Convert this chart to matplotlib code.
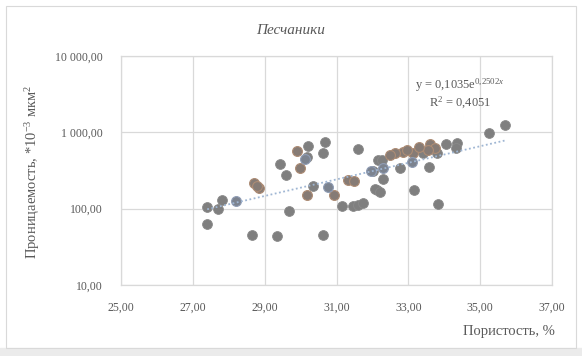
import numpy as np
import matplotlib
matplotlib.use('Agg')
import matplotlib.pyplot as plt
from matplotlib.ticker import FuncFormatter, FixedLocator
import matplotlib.patches as mpatches

plt.rcParams['font.family'] = ['Liberation Serif', 'DejaVu Serif']
plt.rcParams['mathtext.fontset'] = 'custom'
plt.rcParams['mathtext.rm'] = 'Liberation Serif'
plt.rcParams['mathtext.it'] = 'Liberation Serif:italic'

# точки (пористость %, проницаемость)
gray_x = [27.40, 27.40, 27.71, 27.82, 28.66, 29.33, 29.43, 29.59, 29.67, 30.21,
          30.19, 30.62, 30.68, 30.35, 30.63, 31.14, 31.47, 31.61, 31.75, 31.61,
          32.12, 32.16, 35.69, 35.25, 34.36, 34.04, 34.33, 33.79, 33.42, 32.77,
          33.58, 32.26, 32.02, 32.29, 32.07, 32.21, 33.17, 33.83]
gray_y = [106, 63, 100, 130, 45, 44, 384, 275, 92, 659,
          477, 539, 738, 198, 45, 109, 109, 111, 117, 597,
          175, 433, 1231, 977, 729, 701, 616, 529, 529, 337,
          353, 433, 313, 242, 179, 167, 175, 114]
brown_x = [28.71, 28.84, 28.79, 29.89, 29.98, 30.19, 30.94, 31.33, 31.49, 33.60,
           33.74, 33.55, 33.14, 32.86, 32.63, 32.50, 32.95, 33.30]
brown_y = [214, 185, 198, 562, 340, 151, 151, 237, 229, 701,
           616, 585, 529, 556, 529, 500, 590, 640]
blue_x = [28.19, 30.12, 30.77, 31.96, 33.09, 32.30]
blue_y = [125, 442, 190, 310, 411, 337]

# линия тренда y = a*e^(b*x)
trend_a = 0.1035
trend_b = 0.2502
r2 = 0.4051

x_ticks = [25, 27, 29, 31, 33, 35, 37]
y_ticks = [10, 100, 1000, 10000]

txt = '#595959'
grid_c = '#d9d9d9'

fig = plt.figure(figsize=(5.82, 3.56), dpi=100)
ax = fig.add_axes([121/582, 1 - 285/356, (552 - 121)/582, (285 - 56)/356])

# рамка диаграммы
fig.patches.append(mpatches.Rectangle((0, 0), 1, 8/356, transform=fig.transFigure,
                                      color='#ebebeb', zorder=0))
fig.patches.append(mpatches.Rectangle((6/582, 8/356), 570/582, 342/356, transform=fig.transFigure,
                                      fill=False, edgecolor='#d9d9d9', lw=0.8, zorder=1))

ms = 50
ax.scatter(gray_x, gray_y, s=ms, c='#7f7f7f', edgecolors='#8a8a8a', linewidths=0.6, zorder=3)
ax.scatter(brown_x, brown_y, s=ms, c='#867b75', edgecolors='#ad8c74', linewidths=0.8, zorder=3)
ax.scatter(blue_x, blue_y, s=ms, c='#7c838f', edgecolors='#909db5', linewidths=0.8, zorder=3)

all_x = gray_x + brown_x + blue_x
tx = np.linspace(min(all_x), max(all_x), 100)
ax.plot(tx, trend_a * np.exp(trend_b * tx), color='#9fb6d3', lw=1.3,
        linestyle=(0, (1, 1.4)), zorder=4)

ax.set_yscale('log')
ax.set_xlim(25, 37)
ax.set_ylim(10, 10000)
ax.xaxis.set_major_locator(FixedLocator(x_ticks))
ax.yaxis.set_major_locator(FixedLocator(y_ticks))
ax.yaxis.set_minor_locator(FixedLocator([]))


def fmt(v, pos):
    s = f'{v:,.2f}'.replace(',', ' ').replace('.', ',')
    return s


ax.xaxis.set_major_formatter(FuncFormatter(fmt))
ax.yaxis.set_major_formatter(FuncFormatter(fmt))
ax.tick_params(axis='both', length=0, labelsize=8.5, labelcolor=txt)
ax.tick_params(axis='x', pad=12)
ax.tick_params(axis='y', pad=13)
ax.grid(True, color=grid_c, lw=0.9)
ax.set_axisbelow(True)
for sp in ax.spines.values():
    sp.set_color(grid_c)
    sp.set_linewidth(0.9)

fig.text(0.5, 1 - 30/356, 'Песчаники', ha='center', va='center', fontsize=11,
         style='italic', color=txt)
fig.text(555/582, 1 - 332/356, 'Пористость, %', ha='right', va='center',
         fontsize=10.5, color=txt)
fig.text(33/582, 1 - 172/356, 'Проницаемость, *10$^{-3}$ мкм$^{2}$', ha='center',
         va='center', rotation=90, fontsize=10.5, color=txt)

fig.text(460/582, 1 - 85/356, 'y = 0,1035e$^{0{,}2502x}$', ha='center', va='center',
         fontsize=9, color=txt)
fig.text(460/582, 1 - 103/356, 'R$^{2}$ = 0,4051', ha='center', va='center',
         fontsize=9, color=txt)

fig.savefig('out.png', dpi=100)
